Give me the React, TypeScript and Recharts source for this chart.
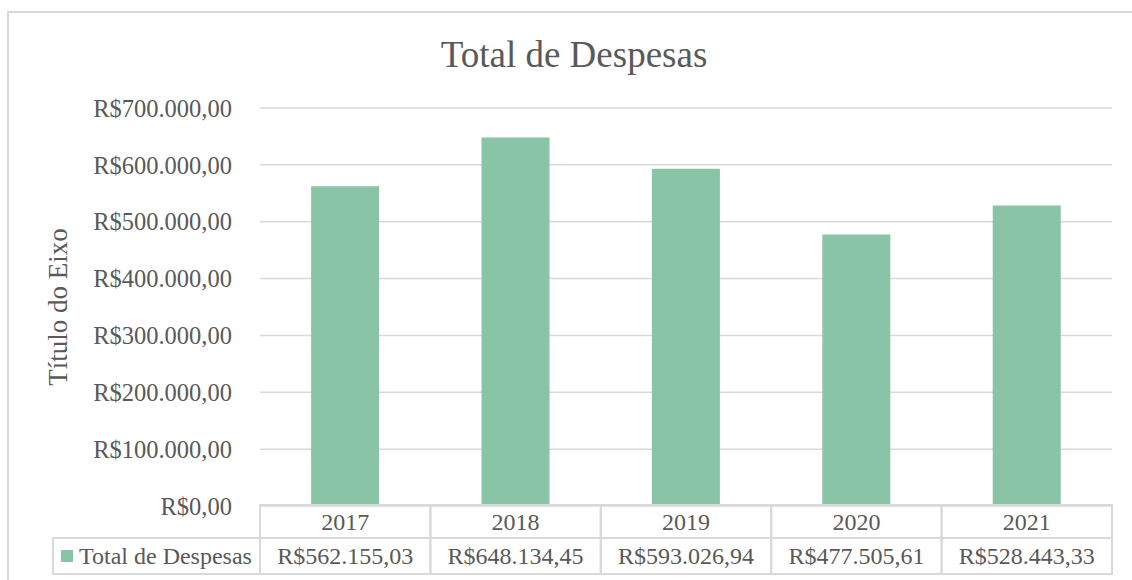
import React from 'react';
import { BarChart, Bar, XAxis, YAxis, CartesianGrid } from 'recharts';

const years = ['2017', '2018', '2019', '2020', '2021'];
const totals = [562155.03, 648134.45, 593026.94, 477505.61, 528443.33];
const yTicks = [0, 100000, 200000, 300000, 400000, 500000, 600000, 700000];
const seriesName = 'Total de Despesas';
const chartTitle = 'Total de Despesas';
const axisTitle = 'Título do Eixo';

const data = years.map((y, i) => ({ year: y, total: totals[i] }));

const FONT = '"Liberation Serif", "Times New Roman", serif';
const TEXT = '#595959';
const LINE = '#d9d9d9';
const BAR = '#89C4A6';

const W = 1132;
const H = 580;
const PLOT_LEFT = 260;
const PLOT_RIGHT = 1112;
const PLOT_TOP = 108;
const PLOT_BOTTOM = 506;
const ROW1_TOP = 505;
const ROW_MID = 538;
const ROW2_BOTTOM = 574;
const LEGEND_LEFT = 53;
const BAND_HALF = (PLOT_RIGHT - PLOT_LEFT) / years.length / 2;

function brl(v: number): string {
  const [int, dec] = Math.abs(v).toFixed(2).split('.');
  const grouped = int.replace(/\B(?=(\d{3})+(?!\d))/g, '.');
  return (v < 0 ? '-' : '') + 'R$' + grouped + ',' + dec;
}

function TableTick(props: any) {
  const { x, payload, index } = props;
  const half = payload && payload.offset > 0 ? payload.offset : BAND_HALF;
  const i = typeof index === 'number' ? index : payload.index;
  const left = x - half;
  const w = half * 2;
  return (
    <g>
      <rect x={left} y={ROW1_TOP} width={w} height={ROW_MID - ROW1_TOP} fill="none" stroke={LINE} strokeWidth={2} />
      <rect x={left} y={ROW_MID} width={w} height={ROW2_BOTTOM - ROW_MID} fill="none" stroke={LINE} strokeWidth={2} />
      <text x={x} y={529.5} textAnchor="middle" fill={TEXT} fontFamily={FONT} fontSize={24}>
        {payload.value}
      </text>
      <text x={x} y={563.5} textAnchor="middle" fill={TEXT} fontFamily={FONT} fontSize={24}>
        {brl(totals[i])}
      </text>
      {i === 0 && (
        <g>
          <rect x={LEGEND_LEFT} y={ROW_MID} width={left - LEGEND_LEFT} height={ROW2_BOTTOM - ROW_MID} fill="none" stroke={LINE} strokeWidth={2} />
          <rect x={61} y={550} width={12} height={12} fill={BAR} />
          <text x={79} y={563.5} fill={TEXT} fontFamily={FONT} fontSize={24}>
            {seriesName}
          </text>
        </g>
      )}
    </g>
  );
}

export default function App() {
  return (
    <div style={{ position: 'fixed', left: 0, top: 0, width: W, height: H, overflow: 'hidden', background: '#fff' }}>
      <div
        style={{
          position: 'absolute',
          left: 7,
          top: 11,
          width: 1140,
          height: 620,
          border: `2px solid ${LINE}`,
          boxSizing: 'border-box',
        }}
      />
      <div style={{ position: 'absolute', left: 0, top: 0 }}>
        <BarChart
          width={W}
          height={H}
          data={data}
          margin={{ top: PLOT_TOP, right: W - PLOT_RIGHT, bottom: H - ROW2_BOTTOM, left: 0 }}
          barCategoryGap="30%"
        >
          <CartesianGrid vertical={false} stroke={LINE} strokeWidth={1.5} />
          <XAxis
            dataKey="year"
            type="category"
            height={ROW2_BOTTOM - PLOT_BOTTOM}
            axisLine={false}
            tickLine={false}
            tickSize={0}
            tickMargin={0}
            interval={0}
            tick={<TableTick />}
          />
          <YAxis
            width={PLOT_LEFT}
            domain={[0, 700000]}
            ticks={yTicks}
            tickFormatter={(v: number) => brl(v)}
            axisLine={false}
            tickLine={false}
            tickSize={0}
            tickMargin={28}
            tick={{ fill: TEXT, fontFamily: FONT, fontSize: 24.5 }}
          />
          <Bar dataKey="total" fill={BAR} isAnimationActive={false} />
        </BarChart>
      </div>
      <svg style={{ position: 'absolute', left: 0, top: 0 }} width={W} height={H}>
        <text x={574} y={67} textAnchor="middle" fill={TEXT} fontFamily={FONT} fontSize={37}>
          {chartTitle}
        </text>
        <text
          x={0}
          y={0}
          transform={`translate(67, ${(PLOT_TOP + PLOT_BOTTOM) / 2}) rotate(-90)`}
          textAnchor="middle"
          fill={TEXT}
          fontFamily={FONT}
          fontSize={27}
        >
          {axisTitle}
        </text>
      </svg>
    </div>
  );
}
